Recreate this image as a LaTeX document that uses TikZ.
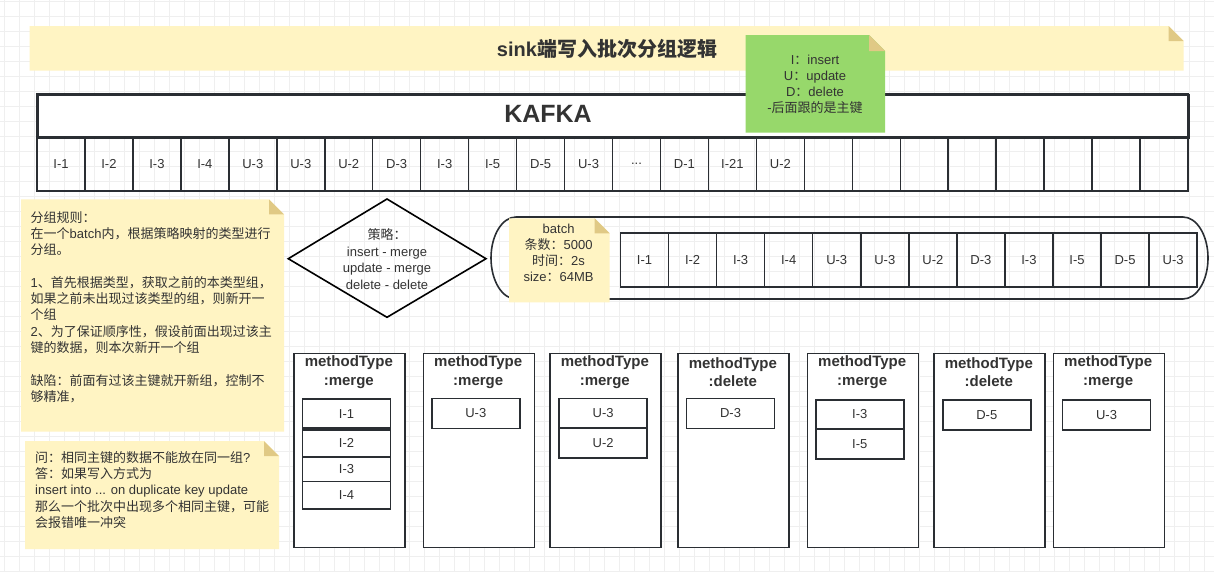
\documentclass[tikz,border=0pt]{standalone}
\usepackage{fontspec}
\setmainfont{Liberation Sans}
\newfontfamily\cjkfont{Noto Sans CJK SC}
\newcommand\zh[1]{{\cjkfont #1}}
\newcommand\fsz[2]{\fontsize{#1}{#2}\selectfont}
\newcommand\threedots{...}
\definecolor{noteyellow}{HTML}{FFF4C3}
\definecolor{notefold}{HTML}{E0C985}
\definecolor{notegreen}{HTML}{97D86B}
\definecolor{gridc}{HTML}{EFEFEF}
\definecolor{edgec}{HTML}{2A2E33}
\definecolor{txtc}{HTML}{333333}
\tikzset{
  gridline/.style={draw=gridc, line width=0.9pt},
  notefill/.style={fill=noteyellow},
  foldfill/.style={fill=notefold},
  kcell/.style={draw=edgec, line width=1.5pt, minimum width=48pt, minimum height=53.7pt,
    inner sep=0pt, font=\fsz{13}{16}, text=txtc},
  bcell/.style={draw=edgec, line width=1.5pt, minimum width=48.05pt, minimum height=54pt,
    inner sep=0pt, font=\fsz{13}{16}, text=txtc},
  grpbox/.style={draw=edgec, line width=1.6pt, minimum width=111pt, minimum height=194pt,
    inner sep=0pt, anchor=north west, fill=white},
  grptitle/.style={font=\fsz{15}{18.7}\bfseries, text=txtc, align=center, inner sep=0pt},
  itembox/.style={draw=edgec, line width=1.6pt, minimum width=88pt, inner sep=0pt,
    anchor=north west, font=\fsz{13}{16}, text=txtc, fill=white},
  notetext/.style={font=\fsz{13}{16.3}, text=txtc, inner sep=0pt},
}
\begin{document}
\begin{tikzpicture}[x=1pt,y=-1pt]
\useasboundingbox (0,0) rectangle (1214,571);
\fill[white] (0,0) rectangle (1214,571);
% grid
\foreach \i in {0,...,80} \draw[gridline] (4.7+15*\i,0) -- (4.7+15*\i,571);
\foreach \j in {0,...,38} \draw[gridline] (0,1.7+15*\j) -- (1214,1.7+15*\j);

% title band
\fill[notefill] (29.7,26) -- (1168.5,26) -- (1183.5,41) -- (1183.5,70.7) -- (29.7,70.7) -- cycle;
\fill[foldfill] (1168.5,26) -- (1168.5,41) -- (1183.5,41) -- cycle;
\node[font=\fsz{20}{24}\bfseries, text=txtc, inner sep=0pt] (title) at (607,48.5)
  {sink{\cjkfont\bfseries 端写入批次分组逻辑}};

% KAFKA box
\node[draw=edgec, line width=1.8pt, fill=white, minimum width=1151pt, minimum height=43pt,
  inner sep=0pt, anchor=north west] (kafka) at (37,94) {};
\node[font=\fsz{25}{30}\bfseries, text=txtc, inner sep=0pt] (kafkalbl) at (548,113.5) {KAFKA};
\foreach \t [count=\i from 0] in {I-1,I-2,I-3,I-4,U-3,U-3,U-2,D-3,I-3,I-5,D-5,U-3,\threedots,D-1,I-21,U-2,{},{},{},{},{},{},{},{}}
  \node[kcell] (kc\i) at (37+47.96*\i+23.98,163.85) {\t};
\draw[draw=edgec, line width=1.8pt] (37,94) rectangle (1188,190.7);

% green legend note
\fill[notegreen] (745.7,35) -- (869,35) -- (885,51) -- (885,132.7) -- (745.7,132.7) -- cycle;
\fill[foldfill] (869,35) -- (869,51) -- (885,51) -- cycle;
\node[notetext, align=center, font=\fsz{13}{16.2}] (legend) at (815,84.5)
  {I\zh{：}insert\\U\zh{：}update\\D\zh{：}delete\\-\zh{后面跟的是主键}};

% rules note
\fill[notefill] (21,199.3) -- (269,199.3) -- (284,214.3) -- (284,431.7) -- (21,431.7) -- cycle;
\fill[foldfill] (269,199.3) -- (269,214.3) -- (284,214.3) -- cycle;
\node[notetext, align=left, anchor=north west] (rules) at (30.5,211)
  {\zh{分组规则：}\\
   \zh{在一个}batch\zh{内，根据策略映射的类型进行}\\
   \zh{分组。}\\[16.3pt]
   1\zh{、首先根据类型，获取之前的本类型组，}\\
   \zh{如果之前未出现过该类型的组，则新开一}\\
   \zh{个组}\\
   2\zh{、为了保证顺序性，假设前面出现过该主}\\
   \zh{键的数据，则本次新开一个组}\\[16.3pt]
   \zh{缺陷：前面有过该主键就开新组，控制不}\\
   \zh{够精准，}};

% question note
\fill[notefill] (25,441) -- (264,441) -- (279,456) -- (279,549) -- (25,549) -- cycle;
\fill[foldfill] (264,441) -- (264,456) -- (279,456) -- cycle;
\node[notetext, align=left, anchor=north west] (qa) at (35,451)
  {\zh{问：相同主键的数据不能放在同一组}?\\
   \zh{答：如果写入方式为}\\
   insert into ... on duplicate key update\\
   \zh{那么一个批次中出现多个相同主键，可能}\\
   \zh{会报错唯一冲突}};

% strategy diamond
\node[notetext, align=center, font=\fsz{13}{16.7}] (strat) at (387,259) 
  {\zh{策略：}\\insert - merge\\update - merge\\delete - delete};
\draw[draw=black, line width=1.6pt, line join=miter] (387,199) -- (486,258.7) -- (387,317.3) -- (288.3,258.7) -- cycle;

% batch capsule
\draw[draw=edgec, line width=1.6pt] (516,217) -- (1183,217)
  .. controls (1196.8,217) and (1208,235.4) .. (1208,258)
  .. controls (1208,280.6) and (1196.8,299) .. (1183,299)
  -- (516,299)
  .. controls (502.2,299) and (491,280.6) .. (491,258)
  .. controls (491,235.4) and (502.2,217) .. (516,217) -- cycle;
\foreach \t [count=\i from 0] in {I-1,I-2,I-3,I-4,U-3,U-3,U-2,D-3,I-3,I-5,D-5,U-3}
  \node[bcell] (bc\i) at (620.5+48.05*\i+24.03,260.3) {\t};
\draw[draw=edgec, line width=1.8pt] (620.5,233.3) rectangle (1197.1,287.3);

% batch note
\fill[notefill] (509,218.3) -- (594.7,218.3) -- (609.7,233.3) -- (609.7,302.3) -- (509,302.3) -- cycle;
\fill[foldfill] (594.7,218.3) -- (594.7,233.3) -- (609.7,233.3) -- cycle;
\node[notetext, align=center, font=\fsz{13}{16.2}] (batchn) at (558.6,253)
  {batch\\\zh{条数：}5000\\\zh{时间：}2s\\size\zh{：}64MB};

% groups
\node[grpbox] (g1) at (293.3,352.5) {};
\node[grpbox] (g2) at (422.7,352.5) {};
\node[grpbox] (g3) at (549.3,352.5) {};
\node[grpbox] (g4) at (677.3,352.5) {};
\node[grpbox] (g5) at (806.7,352.5) {};
\node[grpbox] (g6) at (933.3,352.5) {};
\node[grpbox] (g7) at (1052.7,352.5) {};
\node[grptitle] (g1t) at (348.8,372) {methodType\\:merge};
\node[grptitle] (g2t) at (478.2,372) {methodType\\:merge};
\node[grptitle] (g3t) at (604.8,372) {methodType\\:merge};
\node[grptitle] (g4t) at (732.8,372) {methodType\\:delete};
\node[grptitle] (g5t) at (862.2,372) {methodType\\:merge};
\node[grptitle] (g6t) at (988.8,372) {methodType\\:delete};
\node[grptitle] (g7t) at (1108.2,372) {methodType\\:merge};

\node[itembox, minimum height=29pt] (g1a) at (301.7,398.3) {I-1};
\node[itembox, minimum height=27pt] (g1b) at (301.7,429) {I-2};
\node[itembox, minimum height=24.7pt] (g1c) at (301.7,456) {I-3};
\node[itembox, minimum height=27.6pt] (g1d) at (301.7,480.7) {I-4};

\node[itembox, minimum height=30pt] (g2a) at (431,397.7) {U-3};

\node[itembox, minimum height=29.6pt] (g3a) at (558.3,397.7) {U-3};
\node[itembox, minimum height=30pt] (g3b) at (558.3,427.3) {U-2};

\node[itembox, minimum height=30pt] (g4a) at (685.7,397.7) {D-3};

\node[itembox, minimum height=29.3pt] (g5a) at (815,399) {I-3};
\node[itembox, minimum height=29.7pt] (g5b) at (815,428.3) {I-5};

\node[itembox, minimum height=30pt] (g6a) at (942,399) {D-5};

\node[itembox, minimum height=30pt] (g7a) at (1061.7,399) {U-3};
\end{tikzpicture}
\end{document}
